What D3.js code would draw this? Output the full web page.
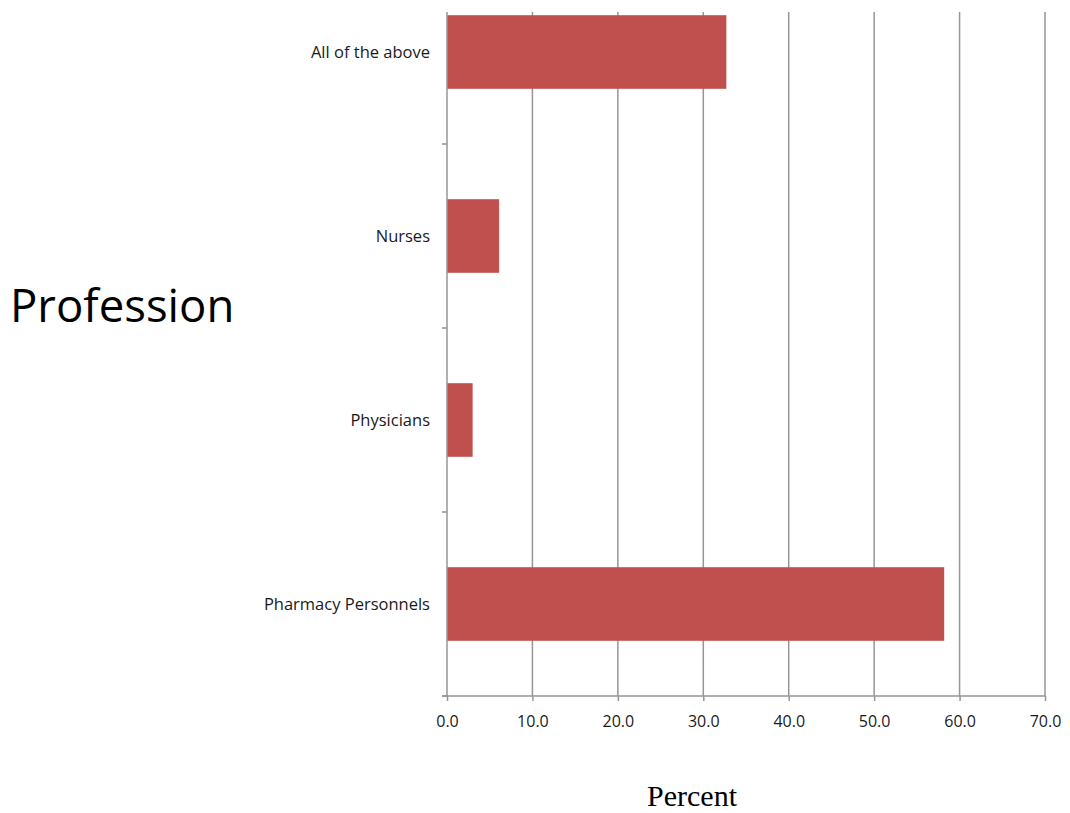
<!DOCTYPE html>
<html>
<head>
<meta charset="utf-8">
<script src="https://cdn.jsdelivr.net/npm/d3@7"></script>
<style>
  html, body { margin: 0; padding: 0; background: #fff; }
  svg { display: block; }
</style>
</head>
<body>
<svg id="chart" width="1070" height="813"></svg>
<script>
const categories = ["All of the above", "Nurses", "Physicians", "Pharmacy Personnels"];
const values = [32.7, 6.1, 3.0, 58.2];
const xTicks = [0, 10, 20, 30, 40, 50, 60, 70];

const svg = d3.select("#chart");
const plot = { left: 447, right: 1045, top: 12, bottom: 696 };

const x = d3.scaleLinear().domain([0, 70]).range([plot.left, plot.right]);
const y = d3.scaleBand().domain(categories).range([plot.bottom - 184 * 4, plot.bottom]).paddingInner(0.6).paddingOuter(0.3);

const gridColor = "#969696";

// gridlines
svg.append("g").selectAll("line").data(xTicks.slice(1)).join("line")
  .attr("x1", d => x(d)).attr("x2", d => x(d))
  .attr("y1", plot.top).attr("y2", plot.bottom)
  .attr("stroke", gridColor).attr("stroke-width", 1.5);

// bars
svg.append("g").selectAll("rect").data(categories).join("rect")
  .attr("x", x(0))
  .attr("y", d => y(d))
  .attr("width", (d, i) => x(values[i]) - x(0))
  .attr("height", y.bandwidth())
  .attr("fill", "#C0504D");

// x axis
const xAxis = d3.axisBottom(x).tickValues(xTicks).tickFormat(d3.format(".1f")).tickSize(5).tickSizeOuter(0);
const gx = svg.append("g").attr("transform", `translate(0,${plot.bottom})`).call(xAxis);
gx.select(".domain").attr("stroke", gridColor).attr("stroke-width", 1.5).attr("d", `M${plot.left - 5},0H${plot.right}`);
gx.selectAll(".tick line").attr("stroke", gridColor).attr("stroke-width", 1.5);
gx.selectAll(".tick text").attr("dy", 0).attr("y", 31)
  .attr("font-family", "'Open Sans', sans-serif").attr("font-size", 16).attr("fill", "#1a1a1a");

// y axis
const yBoundaries = d3.scaleLinear().domain([0, 4]).range([plot.bottom - 184 * 4, plot.bottom]);
const gy = svg.append("g");
gy.append("line").attr("x1", plot.left).attr("x2", plot.left).attr("y1", plot.top).attr("y2", plot.bottom)
  .attr("stroke", gridColor).attr("stroke-width", 1.5);
gy.selectAll("line.tk").data([1, 2, 3, 4]).join("line").attr("class", "tk")
  .attr("x1", plot.left - 5).attr("x2", plot.left)
  .attr("y1", d => yBoundaries(d)).attr("y2", d => yBoundaries(d))
  .attr("stroke", gridColor).attr("stroke-width", 1.5);
gy.selectAll("text").data(categories).join("text")
  .attr("x", plot.left - 17)
  .attr("y", d => y(d) + y.bandwidth() / 2)
  .attr("dy", "0.35em")
  .attr("text-anchor", "end")
  .attr("font-family", "'Open Sans', sans-serif")
  .attr("font-size", 16.5)
  .attr("fill", "#1a1a1a")
  .text(d => d);

// titles
svg.append("text").attr("x", 10).attr("y", 322)
  .attr("font-family", "'Open Sans', sans-serif").attr("font-size", 45.5).attr("fill", "#000")
  .text("Profession");

svg.append("text").attr("x", 692).attr("y", 806).attr("text-anchor", "middle")
  .attr("font-family", "'Liberation Serif', 'Times New Roman', serif").attr("font-size", 30).attr("fill", "#000")
  .text("Percent");
</script>
</body>
</html>
